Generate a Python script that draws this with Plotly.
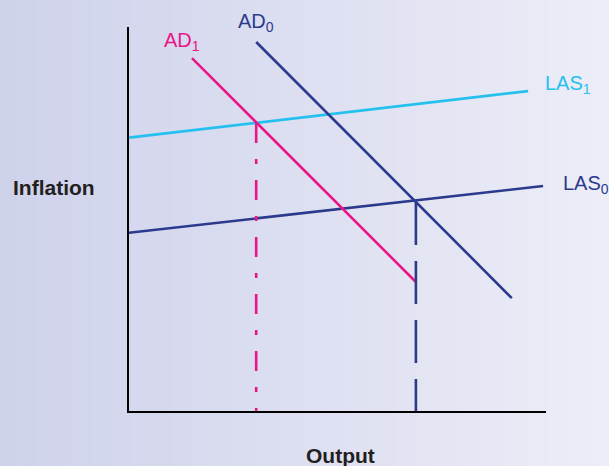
import plotly.graph_objects as go

# ---- data (abstract units: output 0..10, inflation 0..10) ----
las1_x = [0.0, 9.57]
las1_y = [7.12, 8.33]
las0_x = [0.0, 9.93]
las0_y = [4.64, 5.86]
ad0_x = [3.05, 9.18]
ad0_y = [9.61, 2.94]
ad1_x = [1.51, 6.88]
ad1_y = [9.19, 3.36]
drop1_x = [3.05, 3.05]
drop1_y = [7.50, 0.0]
drop0_x = [6.88, 6.88]
drop0_y = [5.44, 0.0]

NAVY = "#2c3a8e"
MAGENTA = "#ea1586"
CYAN = "#25c1ee"
DARK = "#231f20"

W, H = 609, 466
L, R, T, B = 129, 63, 27, 55
pw, ph = W - L - R, H - T - B


def pp_x(p):
    return (p - L) / pw


def pp_y(p):
    return (H - B - p) / ph


fig = go.Figure()
fig.add_trace(go.Scatter(x=las1_x, y=las1_y, mode="lines", line=dict(color=CYAN, width=2.7)))
fig.add_trace(go.Scatter(x=las0_x, y=las0_y, mode="lines", line=dict(color=NAVY, width=2.6)))
fig.add_trace(go.Scatter(x=ad0_x, y=ad0_y, mode="lines", line=dict(color=NAVY, width=2.6)))
fig.add_trace(go.Scatter(x=ad1_x, y=ad1_y, mode="lines", line=dict(color=MAGENTA, width=2.6)))
fig.add_trace(go.Scatter(x=drop1_x, y=drop1_y, mode="lines",
                         line=dict(color=MAGENTA, width=2.6, dash="20px,16px,5px,16px")))
fig.add_trace(go.Scatter(x=drop0_x, y=drop0_y, mode="lines",
                         line=dict(color=NAVY, width=2.6, dash="43px,16px")))

# background gradient (horizontal)
shapes = []
n = 120
c0 = (0xCE, 0xD2, 0xEB)
c1 = (0xEC, 0xED, 0xF7)
for i in range(n):
    t = i / (n - 1)
    col = "rgb(%d,%d,%d)" % tuple(round(a + (b - a) * t) for a, b in zip(c0, c1))
    x0p = i * W / n
    x1p = (i + 1) * W / n + 1
    shapes.append(dict(type="rect", xref="paper", yref="paper", layer="below",
                       x0=pp_x(x0p), x1=pp_x(x1p),
                       y0=-(B + 5) / ph, y1=1 + (T + 5) / ph,
                       fillcolor=col, line=dict(width=0)))

ann_font = dict(family="Liberation Sans, Arial, sans-serif", size=20)
bold_font = dict(family="Liberation Sans, Arial, sans-serif", size=21)
annotations = [
    dict(x=pp_x(236), y=pp_y(22), text="AD<sub>0</sub>", font=dict(**ann_font, color=NAVY)),
    dict(x=pp_x(162), y=pp_y(41), text="AD<sub>1</sub>", font=dict(**ann_font, color=MAGENTA)),
    dict(x=pp_x(543), y=pp_y(85), text="LAS<sub>1</sub>", font=dict(**ann_font, color=CYAN)),
    dict(x=pp_x(561), y=pp_y(184), text="LAS<sub>0</sub>", font=dict(**ann_font, color=NAVY)),
    dict(x=pp_x(11), y=pp_y(187), text="<b>Inflation</b>", font=dict(**bold_font, color=DARK)),
]
for a in annotations:
    a.update(xref="paper", yref="paper", xanchor="left", yanchor="middle", showarrow=False)
annotations.append(dict(x=pp_x(340), y=pp_y(455), xref="paper", yref="paper", xanchor="center",
                        yanchor="middle", showarrow=False, text="<b>Output</b>",
                        font=dict(**bold_font, color=DARK)))

fig.update_layout(
    width=W, height=H,
    margin=dict(l=L, r=R, t=T, b=B, pad=0),
    paper_bgcolor="#dfe1f1",
    plot_bgcolor="rgba(0,0,0,0)",
    showlegend=False,
    shapes=shapes,
    annotations=annotations,
    xaxis=dict(range=[0, 10], showgrid=False, zeroline=False, showticklabels=False, ticks="",
               showline=True, linecolor="black", linewidth=1.5, fixedrange=True),
    yaxis=dict(range=[0, 10], showgrid=False, zeroline=False, showticklabels=False, ticks="",
               showline=True, linecolor="black", linewidth=1.5, fixedrange=True),
)

fig.write_html("out.html", config={"displayModeBar": False},
               post_script="document.body.style.margin='0';document.body.style.overflow='hidden';")
